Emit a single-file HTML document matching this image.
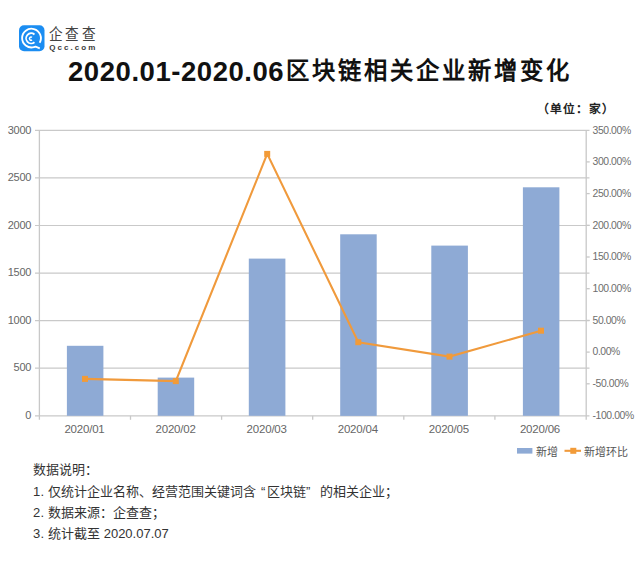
<!DOCTYPE html>
<html lang="zh-CN"><head><meta charset="utf-8">
<style>
html,body{margin:0;padding:0;background:#fff;}
body{width:640px;height:586px;position:relative;overflow:hidden;font-family:"Liberation Sans",sans-serif;}
.t{position:absolute;white-space:nowrap;line-height:1;}
</style></head><body>

<!-- logo -->
<svg style="position:absolute;left:0;top:0" width="120" height="60" viewBox="0 0 120 60">
  <rect x="19" y="25.2" width="25.5" height="26" rx="5" fill="#1b8df2"/>
  <path d="M39.64 42.8 A9.4 9.4 0 1 0 33.93 47.18 L35.6 46.7 L39.8 48.3" fill="none" stroke="#fff" stroke-width="1.85" stroke-linejoin="round"/>
  <path d="M34.48 34.44 A5.1 5.1 0 1 0 34.48 42.26" fill="none" stroke="#fff" stroke-width="1.8"/>
  <path d="M32.02 37.29 A1.6 1.6 0 1 0 32.02 39.91" fill="none" stroke="#fff" stroke-width="1.5"/>
</svg>
<div class="t" style="left:49.2px;top:27.3px;font-size:15.5px;color:#444;letter-spacing:2.57px;transform:scaleX(0.88);transform-origin:0 0;">企查查</div>
<div class="t" style="left:49.2px;top:44px;font-size:8px;font-weight:bold;color:#3a3a3a;letter-spacing:2.05px;">Qcc.com</div>

<!-- title -->
<div class="t" style="left:68px;top:57.5px;font-size:26px;font-weight:bold;color:#111;"><span style="letter-spacing:0.55px;font-size:27.5px">2020.01-2020.06</span><span style="font-size:23.3px;letter-spacing:2.95px;margin-left:1.8px;font-weight:900;position:relative;top:-1.5px">区块链相关企业新增变化</span></div>
<div class="t" style="left:537px;top:104px;font-size:11.8px;letter-spacing:1.0px;font-weight:bold;color:#222;">（单位：家）</div>

<!-- chart -->
<svg style="position:absolute;left:0;top:0" width="640" height="586" viewBox="0 0 640 586">
  <g stroke="#c9c9c9" stroke-width="1.2" fill="none">
    <line x1="35" y1="130.3" x2="589.5" y2="130.3"/>
    <line x1="35" y1="177.9" x2="589.5" y2="177.9"/>
    <line x1="35" y1="225.5" x2="589.5" y2="225.5"/>
    <line x1="35" y1="273.1" x2="589.5" y2="273.1"/>
    <line x1="35" y1="320.6" x2="589.5" y2="320.6"/>
    <line x1="35" y1="368.2" x2="589.5" y2="368.2"/>
    <line x1="35" y1="415.8" x2="589.5" y2="415.8"/>
  </g>
  <g stroke="#c8c8c8" stroke-width="1.3" fill="none">
    <line x1="39.4" y1="130" x2="39.4" y2="419.8"/>
    <line x1="586.2" y1="130" x2="586.2" y2="419.8"/>
    <line x1="130.5" y1="415.8" x2="130.5" y2="419.8"/>
    <line x1="221.6" y1="415.8" x2="221.6" y2="419.8"/>
    <line x1="312.7" y1="415.8" x2="312.7" y2="419.8"/>
    <line x1="403.8" y1="415.8" x2="403.8" y2="419.8"/>
    <line x1="494.9" y1="415.8" x2="494.9" y2="419.8"/>
    <line x1="586.2" y1="161.9" x2="589.7" y2="161.9"/>
    <line x1="586.2" y1="193.6" x2="589.7" y2="193.6"/>
    <line x1="586.2" y1="225.3" x2="589.7" y2="225.3"/>
    <line x1="586.2" y1="257.0" x2="589.7" y2="257.0"/>
    <line x1="586.2" y1="288.7" x2="589.7" y2="288.7"/>
    <line x1="586.2" y1="320.4" x2="589.7" y2="320.4"/>
    <line x1="586.2" y1="352.1" x2="589.7" y2="352.1"/>
    <line x1="586.2" y1="383.8" x2="589.7" y2="383.8"/>
  </g>
  <g fill="#8eaad5">
    <rect x="66.9" y="345.8" width="36.5" height="70"/>
    <rect x="157.7" y="377.6" width="36.5" height="38.2"/>
    <rect x="248.8" y="258.6" width="36.6" height="157.2"/>
    <rect x="340.2" y="234.3" width="36.5" height="181.6"/>
    <rect x="431.3" y="245.6" width="36.6" height="170.2"/>
    <rect x="522.9" y="187.3" width="36.5" height="228.5"/>
  </g>
  <polyline points="85,378.9 175.8,381.1 267.2,153.9 358.3,342.2 449.5,356.6 541,330.7" fill="none" stroke="#f09a3c" stroke-width="2.1"/>
  <g fill="#f29b38">
    <rect x="82" y="375.9" width="6" height="6"/>
    <rect x="172.8" y="378.1" width="6" height="6"/>
    <rect x="264.2" y="150.9" width="6" height="6"/>
    <rect x="355.3" y="339.2" width="6" height="6"/>
    <rect x="446.5" y="353.6" width="6" height="6"/>
    <rect x="538" y="327.7" width="6" height="6"/>
  </g>
  <!-- legend -->
  <rect x="517" y="448" width="15.4" height="5.6" fill="#8eaad5"/>
  <line x1="564.5" y1="450.8" x2="581" y2="450.8" stroke="#f09a3c" stroke-width="2.1"/>
  <rect x="570.3" y="447.8" width="6" height="6" fill="#f29b38"/>
</svg>

<!-- y left labels -->
<div style="position:absolute;left:0;top:0;width:31.2px;font-size:11px;color:#666;text-align:right;line-height:1;letter-spacing:-0.25px;">
  <div class="t" style="right:0;top:124.5px">3000</div>
  <div class="t" style="right:0;top:172px">2500</div>
  <div class="t" style="right:0;top:219.5px">2000</div>
  <div class="t" style="right:0;top:267px">1500</div>
  <div class="t" style="right:0;top:314.5px">1000</div>
  <div class="t" style="right:0;top:362px">500</div>
  <div class="t" style="right:0;top:409.5px">0</div>
</div>
<!-- y right labels -->
<div style="position:absolute;left:592.5px;top:0.5px;font-size:10.4px;color:#6e6e6e;letter-spacing:-0.4px;line-height:1;">
  <div class="t" style="left:0;top:125px">350.00%</div>
  <div class="t" style="left:0;top:156.7px">300.00%</div>
  <div class="t" style="left:0;top:188.4px">250.00%</div>
  <div class="t" style="left:0;top:220.1px">200.00%</div>
  <div class="t" style="left:0;top:251.8px">150.00%</div>
  <div class="t" style="left:0;top:283.5px">100.00%</div>
  <div class="t" style="left:0;top:315.2px">50.00%</div>
  <div class="t" style="left:0;top:346.9px">0.00%</div>
  <div class="t" style="left:0;top:378.6px">-50.00%</div>
  <div class="t" style="left:0;top:410.3px">-100.00%</div>
</div>
<!-- x labels -->
<div style="position:absolute;left:0.6px;top:424px;font-size:11.5px;color:#666;line-height:1;letter-spacing:-0.2px;">
  <div class="t" style="left:63.8px">2020/01</div>
  <div class="t" style="left:154.9px">2020/02</div>
  <div class="t" style="left:246px">2020/03</div>
  <div class="t" style="left:337.1px">2020/04</div>
  <div class="t" style="left:428.2px">2020/05</div>
  <div class="t" style="left:519.3px">2020/06</div>
</div>
<!-- legend text -->
<div class="t" style="left:535.5px;top:446.8px;font-size:11px;color:#555;font-weight:300;">新增</div>
<div class="t" style="left:583.5px;top:446.8px;font-size:11px;color:#555;font-weight:300;">新增环比</div>

<!-- notes -->
<div style="position:absolute;left:33px;top:0;font-size:13px;color:#333;line-height:16px;">
  <div class="t" style="left:0;top:462.7px">数据说明：</div>
  <div class="t" style="left:0;top:484.6px"><span style="letter-spacing:0.2px">1. </span>仅统计企业名称、经营范围关键词含<span style="display:inline-block;width:11px;box-sizing:border-box;padding-right:1.8px;text-align:right">“</span>区块链<span style="display:inline-block;width:13.5px;text-align:left">”</span>的相关企业；</div>
  <div class="t" style="left:0;top:505.6px"><span style="letter-spacing:0.2px">2. </span>数据来源：企查查；</div>
  <div class="t" style="left:0;top:526.6px"><span style="letter-spacing:0.2px">3. </span>统计截至 2020.07.07</div>
</div>
</body></html>
